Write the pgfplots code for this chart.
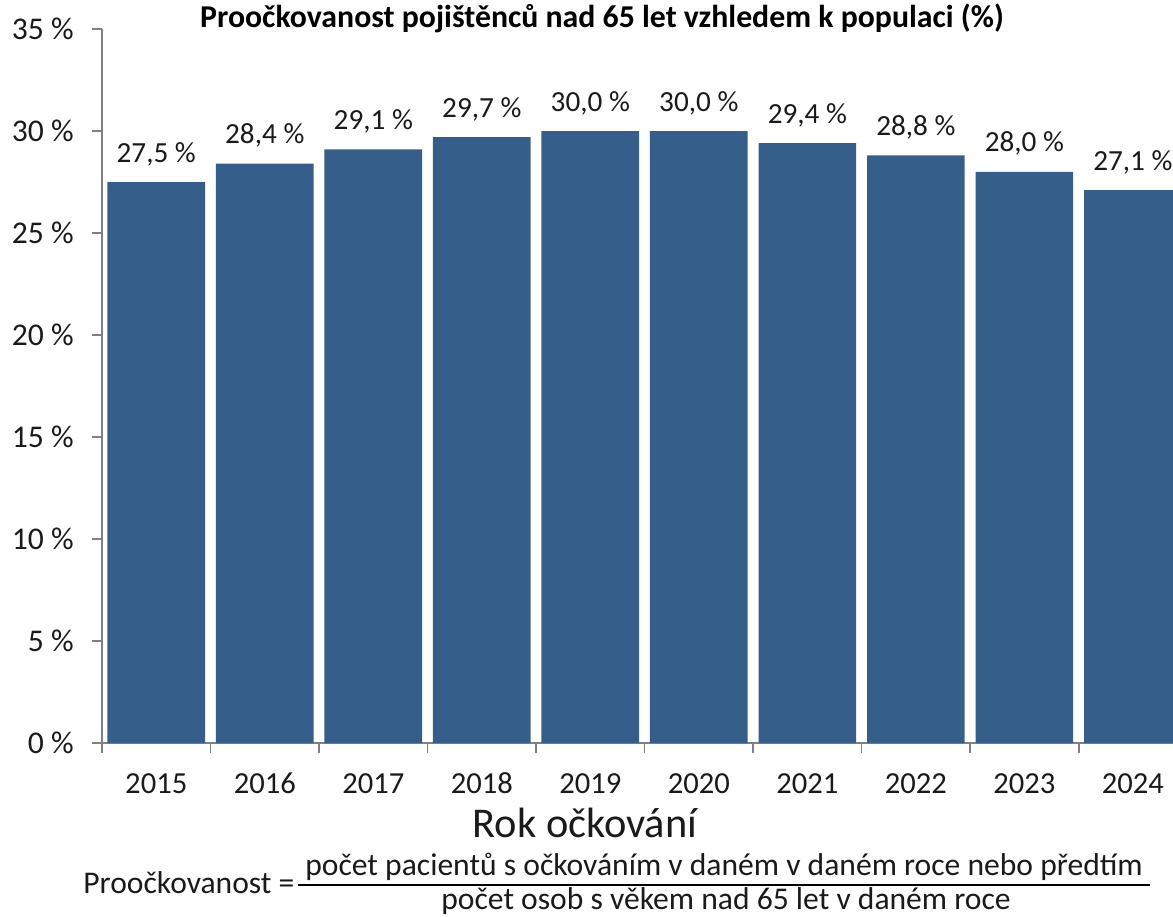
\documentclass[border=0pt]{standalone}
\usepackage{pgfplots}
\pgfplotsset{compat=1.18}
\usepackage{pgfplotstable}
\usepackage{fontspec}
\setmainfont{Carlito}

\definecolor{barblue}{RGB}{53,94,138}
\definecolor{axisgray}{RGB}{128,128,128}
\definecolor{txt}{RGB}{26,26,26}

% Proočkovanost pojištěnců nad 65 let (%)
\pgfplotstableread{
idx year val
0 2015 27.5
1 2016 28.4
2 2017 29.1
3 2018 29.7
4 2019 30.0
5 2020 30.0
6 2021 29.4
7 2022 28.8
8 2023 28.0
9 2024 27.1
}\vaccdata

\begin{document}
\begin{tikzpicture}
\useasboundingbox (0pt,0pt) rectangle (586.5pt,458pt);
\begin{axis}[
  at={(51pt,86.5pt)}, anchor=south west,
  scale only axis, width=535.5pt, height=357pt,
  xmin=-0.5, xmax=9.37, ymin=0, ymax=35,
  axis x line=bottom, axis y line=left,
  axis line style={axisgray, line width=0.9pt, -},
  tick align=outside, major tick length=5pt,
  tick style={axisgray, line width=0.9pt},
  ybar, bar width=0.9, bar shift=0pt,
  ytick={0,5,...,35},
  yticklabels={0~\%,5~\%,10~\%,15~\%,20~\%,25~\%,30~\%,35~\%},
  yticklabel style={anchor=east, inner sep=0pt, xshift=-9pt, font=\fontsize{15.8}{18}\selectfont},
  xtick={-0.5,0.5,...,8.5}, xticklabels={},
  extra x ticks={0,1,...,9},
  extra x tick labels={2015,2016,2017,2018,2019,2020,2021,2022,2023,2024},
  extra x tick style={major tick length=0pt, tick style={draw=none}},
  xticklabel style={anchor=base, inner sep=0pt, yshift=-25pt, font=\fontsize{15.3}{18}\selectfont},
  ticklabel style={text=txt},
  /pgf/number format/assume math mode=true,
  nodes near coords={\pgfmathprintnumber[fixed,fixed zerofill,precision=1,use comma]{\pgfplotspointmeta}~\%},
  every node near coord/.append style={anchor=base, yshift=10pt, inner sep=0pt,
    font=\fontsize{14.6}{17}\selectfont, text=txt},
  clip=false,
]
\addplot[fill=barblue, draw=none] table[x=idx, y=val]{\vaccdata};
\end{axis}

% title
\node[anchor=base, text=black, font=\bfseries\fontsize{15.9}{19}\selectfont]
  at (301pt,444pt) {Proočkovanost pojištěnců nad 65 let vzhledem k populaci (\%)};

% x axis label
\node[anchor=base, text=txt, font=\fontsize{21.2}{25}\selectfont]
  at (292.5pt,39pt) {Rok očkování};

% definition of the quantity
\node[anchor=base west, inner sep=0pt, text=txt, font=\fontsize{15.8}{19}\selectfont]
  at (41.5pt,11.5pt) {Proočkovanost =};
\node[anchor=base, inner sep=0pt, text=txt, font=\fontsize{15.8}{19}\selectfont]
  at (362pt,20pt) {počet pacientů s očkováním v daném v daném roce nebo předtím};
\draw[black, line width=1pt] (149pt,15.5pt) -- (575pt,15.5pt);
\node[anchor=base, inner sep=0pt, text=txt, font=\fontsize{15.8}{19}\selectfont]
  at (363pt,3.2pt) {počet osob s věkem nad 65 let v daném roce};
\end{tikzpicture}
\end{document}
